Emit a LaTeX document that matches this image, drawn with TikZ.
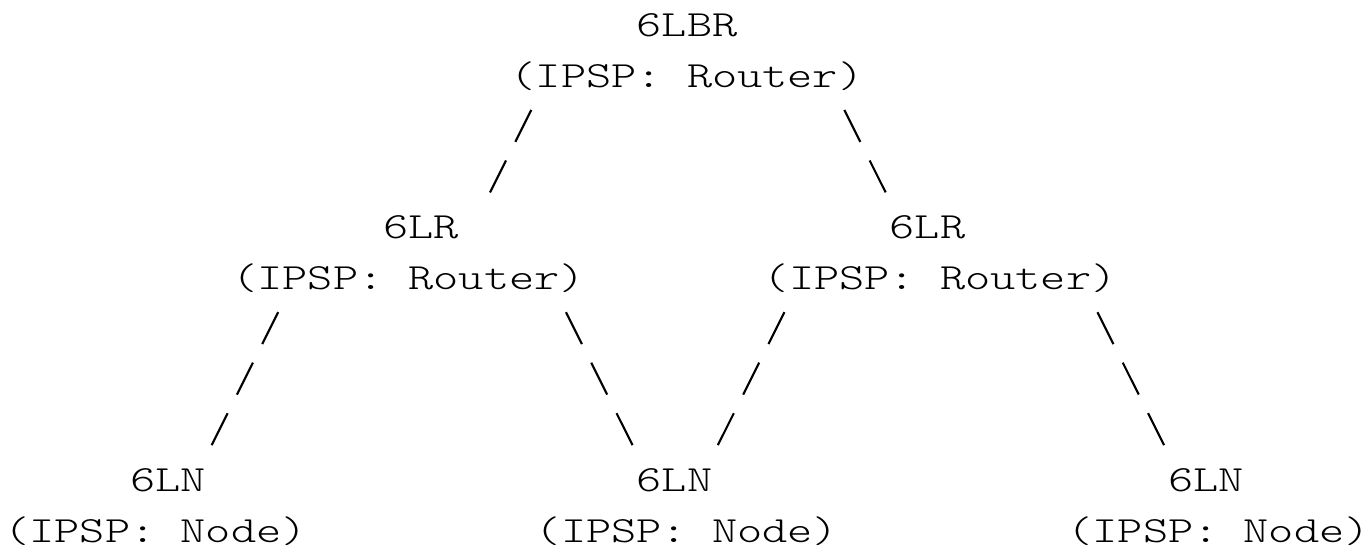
\documentclass[tikz,border=0pt]{standalone}
\usepackage{fontspec}
\newfontfamily\asciifont{lmmonolt10-regular.otf}[FakeStretch=1.3]
\usepackage{tikz}

\begin{document}
\begin{tikzpicture}[x=0.2531cm, y=-0.5055cm,
  txt/.style={font=\asciifont\fontsize{10.5pt}{12pt}\selectfont, inner sep=0pt, anchor=base},
  link/.style={line width=0.6pt, dash pattern=on 0.357cm off 0.208cm}]
  \useasboundingbox (-0.146,-0.726) rectangle (54.06,10.154);
  % border router
  \node[txt] (lbr) at (27,0) {6LBR};
  \node[txt] (lbrRole) at (27,1) {(IPSP: Router)};
  % routers
  \node[txt] (lrA) at (16.5,4) {6LR};
  \node[txt] (lrARole) at (16,5) {(IPSP: Router)};
  \node[txt] (lrB) at (36.5,4) {6LR};
  \node[txt] (lrBRole) at (37,5) {(IPSP: Router)};
  % nodes
  \node[txt] (lnA) at (6.5,9) {6LN};
  \node[txt] (lnARole) at (6,10) {(IPSP: Node)};
  \node[txt] (lnB) at (26.5,9) {6LN};
  \node[txt] (lnBRole) at (27,10) {(IPSP: Node)};
  \node[txt] (lnC) at (47.5,9) {6LN};
  \node[txt] (lnCRole) at (48,10) {(IPSP: Node)};
  % link ends
  \coordinate (lbrL) at (20.846,1.449);
  \coordinate (lrAUp) at (19.214,3.081);
  \coordinate (lbrR) at (33.214,1.449);
  \coordinate (lrBUp) at (34.846,3.081);
  \coordinate (lrAL) at (10.846,5.449);
  \coordinate (lnAUp) at (8.214,8.081);
  \coordinate (lrAR) at (22.214,5.449);
  \coordinate (lnBUpL) at (24.846,8.081);
  \coordinate (lrBL) at (30.846,5.449);
  \coordinate (lnBUpR) at (28.214,8.081);
  \coordinate (lrBR) at (43.214,5.449);
  \coordinate (lnCUp) at (45.846,8.081);
  % links
  \draw[link] (lbrL) -- (lrAUp);
  \draw[link] (lbrR) -- (lrBUp);
  \draw[link] (lrAL) -- (lnAUp);
  \draw[link] (lrAR) -- (lnBUpL);
  \draw[link] (lrBL) -- (lnBUpR);
  \draw[link] (lrBR) -- (lnCUp);
\end{tikzpicture}
\end{document}
